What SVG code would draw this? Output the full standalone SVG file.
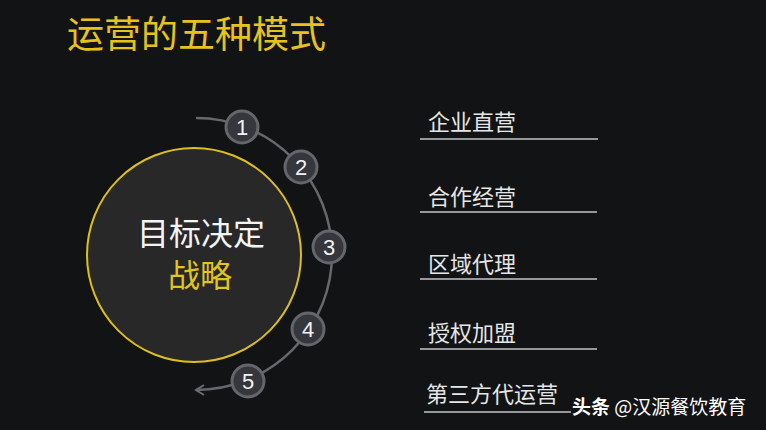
<svg xmlns="http://www.w3.org/2000/svg" width="766" height="430" viewBox="0 0 766 430">
<defs>
<style>
.cjk{font-family:"Noto Sans CJK SC","Noto Sans",sans-serif}
.num{font-family:"Liberation Sans","DejaVu Sans",sans-serif;font-size:22px;fill:#f2f2f2;text-anchor:middle}
.step circle{fill:#35373c;stroke:#64666b;stroke-width:3}
.label{font-size:22px;fill:#e6e6e6}
.uline{stroke:#c4c4c4;stroke-width:1.6}
</style>
<marker id="arr" markerWidth="12" markerHeight="12" refX="10" refY="6" orient="auto" markerUnits="userSpaceOnUse">
<path d="M2,1 L10,6 L2,11" fill="none" stroke="#6a6c70" stroke-width="2"/>
</marker>
</defs>
<rect width="766" height="430" fill="#121315"/>
<text x="67" y="48" class="cjk" font-size="37" fill="#e8c21c">运营的五种模式</text>

<g id="connectors">
<path d="M196,118 A136,136 0 0 1 196,390" fill="none" stroke="#66686c" stroke-width="2.5" marker-end="url(#arr)"/>
</g>

<g id="center">
<circle cx="194" cy="255" r="107" fill="#282828" stroke="#dcbf1e" stroke-width="2"/>
<text x="201" y="245" class="cjk" font-size="32" fill="#f4f4f4" text-anchor="middle">目标决定</text>
<text x="200" y="287" class="cjk" font-size="32" fill="#e2c41e" text-anchor="middle">战略</text>
</g>

<g id="step1" class="step"><circle cx="242" cy="127" r="16"/><text x="242" y="135" class="num">1</text></g>
<g id="step2" class="step"><circle cx="301" cy="167" r="16"/><text x="301" y="175" class="num">2</text></g>
<g id="step3" class="step"><circle cx="329" cy="247" r="16"/><text x="329" y="255" class="num">3</text></g>
<g id="step4" class="step"><circle cx="308" cy="329" r="16"/><text x="308" y="337" class="num">4</text></g>
<g id="step5" class="step"><circle cx="248" cy="381" r="16"/><text x="248" y="389" class="num">5</text></g>

<g id="item1"><text x="428" y="130" class="cjk label">企业直营</text><line x1="420" y1="139" x2="598" y2="139" class="uline"/></g>
<g id="item2"><text x="428" y="205" class="cjk label">合作经营</text><line x1="420" y1="212" x2="597" y2="212" class="uline"/></g>
<g id="item3"><text x="428" y="272" class="cjk label">区域代理</text><line x1="420" y1="279" x2="597" y2="279" class="uline"/></g>
<g id="item4"><text x="428" y="341" class="cjk label">授权加盟</text><line x1="420" y1="349" x2="597" y2="349" class="uline"/></g>
<g id="item5"><text x="426" y="402" class="cjk label">第三方代运营</text><line x1="424" y1="412" x2="571" y2="412" class="uline"/></g>

<g id="watermark">
<text x="572" y="414" class="cjk" font-size="19" fill="#ffffff"><tspan font-weight="bold">头条</tspan> @汉源餐饮教育</text>
</g>
</svg>
